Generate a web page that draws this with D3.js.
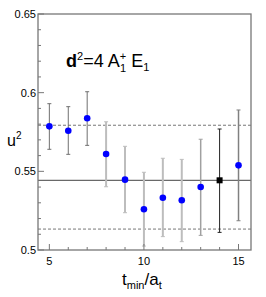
<!DOCTYPE html>
<html>
<head>
<meta charset="utf-8">
<script src="https://cdn.jsdelivr.net/npm/d3@7"></script>
<style>
  body { margin: 0; background: #fff; }
  svg { display: block; font-family: "Liberation Sans", Arial, sans-serif; }
</style>
</head>
<body>
<div id="chart"></div>
<script>
// data
const tmin = [5, 6, 7, 8, 9, 10, 11, 12, 13, 14, 15];
const u2 = [0.5786, 0.5758, 0.5837, 0.5610, 0.5447, 0.5259, 0.5332, 0.5316, 0.5400, 0.5443, 0.5538];
const u2Hi = [0.5930, 0.5911, 0.6006, 0.5815, 0.5659, 0.5494, 0.5583, 0.5576, 0.5704, 0.5769, 0.5890];
const u2Lo = [0.5640, 0.5608, 0.5665, 0.5402, 0.5237, 0.5025, 0.5085, 0.5053, 0.5093, 0.5112, 0.5186];
const chosen = 14;
const fitValue = 0.5443;
const fitBand = [0.5133, 0.5793];
const yTicks = [0.5, 0.55, 0.6, 0.65];
const xTicks = [5, 10, 15];

// error bar look per point (ROOT-ish greys)
const barColor = ["#707070", "#707070", "#707070", "#bdbdbd", "#bdbdbd", "#bdbdbd", "#bdbdbd", "#bdbdbd", "#a0a0a0", "#222", "#808080"];
const barWidth = [1, 1, 1, 2, 2, 2, 2, 2, 1.5, 1, 1.5];

const width = 266, height = 297;
const m = { left: 38, right: 251, top: 14, bottom: 250 };

const svg = d3.select("#chart").append("svg")
  .attr("width", width).attr("height", height);

const x = d3.scaleLinear().domain([4.4, 15.66]).range([m.left, m.right]);
const y = d3.scaleLinear().domain([0.5, 0.65]).range([m.bottom, m.top]);

// fit lines
svg.append("line")
  .attr("x1", m.left).attr("x2", m.right)
  .attr("y1", y(fitValue)).attr("y2", y(fitValue))
  .attr("stroke", "#444").attr("stroke-width", 1);
fitBand.forEach(v => {
  svg.append("line")
    .attr("x1", m.left).attr("x2", m.right)
    .attr("y1", y(v)).attr("y2", y(v))
    .attr("stroke", "#777").attr("stroke-width", 1)
    .attr("stroke-dasharray", "3,2");
});

// error bars
const pts = tmin.map((t, i) => ({ t, v: u2[i], hi: u2Hi[i], lo: u2Lo[i], i }));
const bars = svg.append("g");
pts.forEach(d => {
  const cx = x(d.t);
  bars.append("line")
    .attr("x1", cx).attr("x2", cx)
    .attr("y1", y(d.hi)).attr("y2", y(d.lo))
    .attr("stroke", barColor[d.i]).attr("stroke-width", barWidth[d.i]);
  [d.hi, d.lo].forEach(v => {
    bars.append("line")
      .attr("x1", cx - 2).attr("x2", cx + 2)
      .attr("y1", y(v)).attr("y2", y(v))
      .attr("stroke", barColor[d.i]).attr("stroke-width", 1);
  });
});

// markers
svg.append("g").selectAll("circle")
  .data(pts.filter(d => d.t !== chosen))
  .join("circle")
  .attr("cx", d => x(d.t)).attr("cy", d => y(d.v))
  .attr("r", 3.3).attr("fill", "#0000ff");
svg.append("g").selectAll("rect")
  .data(pts.filter(d => d.t === chosen))
  .join("rect")
  .attr("x", d => x(d.t) - 3).attr("y", d => y(d.v) - 3)
  .attr("width", 6).attr("height", 6).attr("fill", "#000");

// frame
svg.append("rect")
  .attr("x", m.left).attr("y", m.top)
  .attr("width", m.right - m.left).attr("height", m.bottom - m.top)
  .attr("fill", "none").attr("stroke", "#777").attr("stroke-width", 1.3);

// y ticks (major + minor every 0.01)
const axes = svg.append("g").attr("stroke", "#777").attr("stroke-width", 1);
d3.range(0, 16).forEach(k => {
  const v = 0.5 + k * 0.01;
  const major = k % 5 === 0;
  axes.append("line")
    .attr("x1", m.left).attr("x2", m.left + (major ? 6 : 3))
    .attr("y1", y(v)).attr("y2", y(v));
});
// x ticks every 1
d3.range(5, 16).forEach(t => {
  const major = t % 5 === 0;
  axes.append("line")
    .attr("x1", x(t)).attr("x2", x(t))
    .attr("y1", m.bottom).attr("y2", m.bottom - (major ? 6 : 3));
});

svg.append("g").selectAll("text")
  .data(yTicks)
  .join("text")
  .attr("x", m.left - 2).attr("y", d => y(d) + 4)
  .attr("text-anchor", "end").attr("font-size", 11)
  .text(d => d === 0.5 ? "0.5" : d3.format(".2~f")(d));

svg.append("g").selectAll("text")
  .data(xTicks)
  .join("text")
  .attr("x", d => x(d)).attr("y", m.bottom + 15)
  .attr("text-anchor", "middle").attr("font-size", 11)
  .text(d => d);

// axis titles
const yt = svg.append("text").attr("x", 7).attr("y", 146).attr("font-size", 16);
yt.append("tspan").text("u");
yt.append("tspan").attr("font-size", 10).attr("dy", -7).text("2");

const xt = svg.append("text").attr("x", 122).attr("y", 285).attr("font-size", 17);
xt.append("tspan").text("t");
xt.append("tspan").attr("font-size", 11).attr("dy", 4).text("min");
xt.append("tspan").attr("dy", -4).text("/a");
xt.append("tspan").attr("font-size", 11).attr("dy", 4).text("t");

// label
const lab = svg.append("text").attr("x", 66).attr("y", 67).attr("font-size", 18);
lab.append("tspan").attr("font-weight", "bold").text("d");
lab.append("tspan").attr("font-size", 11).attr("dy", -7).text("2");
lab.append("tspan").attr("dy", 7).text("=4 A");
lab.append("tspan").attr("font-size", 11).attr("dy", -7).text("+");
lab.append("tspan").attr("font-size", 11).attr("dx", -6).attr("dy", 12).text("1");
lab.append("tspan").attr("dy", -5).text(" E");
lab.append("tspan").attr("font-size", 11).attr("dy", 4).text("1");
</script>
</body>
</html>
